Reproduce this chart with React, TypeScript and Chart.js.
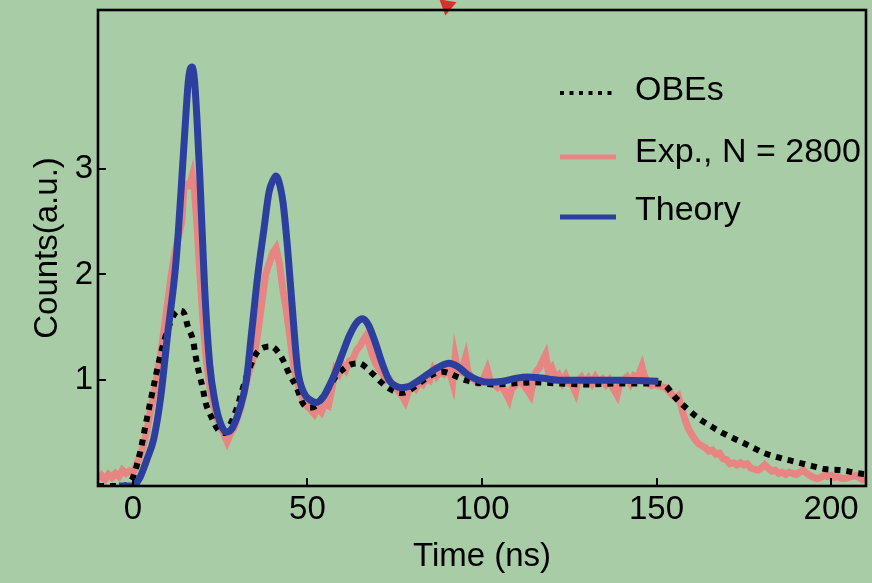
import React, { useEffect, useRef } from "react";
import { Chart, registerables } from "chart.js";

Chart.register(...registerables);

// ---------- data ----------
const xTickValues = [0, 50, 100, 150, 200];
const yTickValues = [1, 2, 3];

const seriesLabels = ["OBEs", "Exp., N = 2800", "Theory"];

const theoryT = [-4, 0, 2, 4, 6, 8, 10, 12, 13, 14, 15, 15.8, 16.4, 17, 17.6, 18.3, 19.2, 20.5, 22, 23.5, 25, 26.8, 28.5, 30.5, 32.5, 34, 35.8, 37.5, 39, 40.3, 41, 41.8, 43, 44.3, 45.5, 47.2, 49, 50.5, 52.5, 54.5, 56, 57.7, 60, 62, 64, 65.8, 67.5, 69.5, 71.5, 73.4, 75, 77, 79, 82, 85, 88, 90.5, 93, 96, 99, 102, 106, 110, 113, 117, 122, 130, 140, 150.5];
const theoryV = [0, 0.0, 0.08, 0.25, 0.45, 0.85, 1.45, 2.0, 2.4, 2.9, 3.42, 3.8, 3.94, 3.96, 3.85, 3.5, 2.9, 1.9, 1.15, 0.8, 0.6, 0.51, 0.55, 0.72, 1.0, 1.45, 2.0, 2.42, 2.78, 2.9, 2.93, 2.88, 2.68, 2.25, 1.75, 1.1, 0.88, 0.82, 0.79, 0.84, 0.93, 1.05, 1.25, 1.42, 1.54, 1.58, 1.52, 1.35, 1.15, 1.0, 0.95, 0.93, 0.94, 1.0, 1.07, 1.13, 1.16, 1.13, 1.05, 1.0, 0.98, 0.99, 1.02, 1.03, 1.02, 1.0, 1.0, 1.0, 0.99];

const obeT = [-10, -3, -1, 0, 2, 3.9, 6.3, 8.2, 10, 11.8, 13.4, 14.7, 15.8, 17.2, 18, 19, 19.9, 20.9, 22.5, 24.4, 26, 27.5, 29.6, 32.5, 35.3, 37.5, 39.6, 41.5, 43, 44.9, 46.8, 48.7, 50.5, 52.5, 54.5, 56.3, 58, 60.1, 62.5, 64.9, 66.8, 68.7, 71.5, 73.5, 75.3, 77, 79, 82, 85, 88.6, 91, 93, 95.3, 100, 104, 108.6, 115, 122, 130.6, 140, 148, 150.5, 152.5, 155.3, 159.1, 162, 165.8, 169.6, 173.4, 177.2, 181, 184.9, 189.6, 194.4, 198.2, 203, 207.7, 210];
const obeV = [0, 0, 0.03, 0.08, 0.31, 0.62, 1.0, 1.28, 1.48, 1.62, 1.66, 1.63, 1.5, 1.38, 1.22, 1.06, 0.94, 0.78, 0.65, 0.53, 0.5, 0.56, 0.72, 1.03, 1.25, 1.31, 1.32, 1.27, 1.19, 1.05, 0.94, 0.78, 0.74, 0.76, 0.85, 0.94, 1.03, 1.1, 1.15, 1.16, 1.12, 1.06, 0.97, 0.92, 0.89, 0.88, 0.9, 0.97, 1.04, 1.08, 1.06, 1.03, 1.0, 0.97, 0.96, 0.97, 0.98, 0.97, 0.96, 0.97, 0.97, 0.97, 0.95, 0.84, 0.72, 0.64, 0.56, 0.49, 0.43, 0.37, 0.31, 0.27, 0.23, 0.19, 0.16, 0.15, 0.12, 0.11];

const expT = [-10, -9, -8, -7, -6, -5, -4, -3, -2, -1, 0, 1, 2, 3, 4, 5, 6, 7, 8, 9, 10, 11, 12, 13, 14, 14.6, 15.5, 16.3, 17, 17.6, 18.3, 19, 20, 21, 22, 23, 24, 25, 26, 27, 28, 29, 30, 31, 32, 33, 34, 35, 36, 37, 38, 39, 40, 41, 42, 43, 44, 45, 46, 47, 48, 49, 50, 51, 52, 53, 54, 55, 56, 57, 58, 59, 60, 61, 62, 63, 64, 65, 66, 66.8, 67.5, 68.5, 69.5, 70.5, 71.5, 72.5, 73.5, 74.5, 75, 76, 77, 78, 79, 80, 81, 82, 83, 84, 85, 86, 87, 88, 89, 90, 91, 91.6, 92.3, 93, 94, 95.3, 96, 97, 98, 99, 100, 101.5, 102.5, 103.5, 104.5, 105.5, 106.5, 107.7, 108.5, 109.5, 110.5, 111.5, 112.5, 113.9, 114.8, 115.5, 116.5, 117.3, 118.2, 119, 120, 121, 122, 123, 124, 125, 126, 126.8, 127.5, 128.5, 129.5, 130.5, 131.5, 132.5, 133.5, 134.5, 135.5, 136.5, 137.5, 138.7, 139.5, 140.5, 141.5, 142.5, 143.5, 144.5, 145.8, 146.5, 147.5, 148.5, 149.5, 150.5, 151.5, 152.5, 153.5, 154.5, 155.5, 156.2, 157, 158, 159, 160, 161, 162, 163, 164, 165, 166, 167, 168, 169, 170, 171, 172, 173, 174, 175, 176, 177, 178, 179, 180, 181, 182, 183, 184, 185, 186, 187, 188, 189, 190, 191, 192, 193, 194, 195, 196, 197, 198, 199, 200, 201, 202, 203, 204, 205, 206, 207, 208, 209, 210];
const expV = [0.07, 0.1, 0.06, 0.11, 0.08, 0.12, 0.09, 0.15, 0.12, 0.14, 0.12, 0.2, 0.28, 0.38, 0.52, 0.7, 0.86, 1.05, 1.25, 1.5, 1.75, 2.0, 2.2, 2.35, 2.5, 2.8, 2.85, 2.84, 2.93, 2.8, 2.5, 2.1, 1.6, 1.2, 0.95, 0.78, 0.65, 0.55, 0.5, 0.42, 0.5, 0.55, 0.65, 0.75, 0.9, 1.05, 1.15, 1.28, 1.5, 1.75, 2.0, 2.1, 2.2, 2.25, 2.1, 1.85, 1.65, 1.4, 1.15, 1.0, 0.88, 0.8, 0.75, 0.72, 0.68, 0.74, 0.7, 0.78, 0.76, 0.92, 1.1, 1.06, 1.15, 1.1, 1.18, 1.2, 1.28, 1.32, 1.38, 1.42, 1.36, 1.25, 1.16, 1.1, 1.06, 1.0, 1.01, 0.95, 0.94, 0.9, 0.86, 0.8, 0.9, 0.95, 0.92, 0.98, 0.96, 1.02, 1.0, 1.1, 1.04, 1.08, 1.06, 1.12, 1.05, 0.98, 1.22, 1.1, 1.08, 1.22, 1.08, 1.02, 1.0, 0.97, 0.98, 1.1, 0.98, 0.96, 0.93, 0.95, 0.9, 0.82, 0.92, 0.95, 1.0, 0.97, 0.93, 0.86, 1.0, 1.08, 1.12, 1.18, 1.24, 1.08, 1.12, 1.02, 1.05, 0.98, 1.04, 0.97, 0.95, 0.89, 1.0, 1.03, 0.98, 1.02, 0.97, 1.03, 0.98, 1.01, 0.96, 1.0, 0.93, 0.86, 0.97, 1.0, 1.03, 0.97, 1.04, 1.02, 1.13, 1.04, 0.98, 0.95, 0.96, 0.95, 0.94, 0.93, 0.9, 0.86, 0.83, 0.85, 0.76, 0.64, 0.55, 0.49, 0.44, 0.4, 0.38, 0.36, 0.33, 0.34, 0.3, 0.31, 0.26, 0.25, 0.21, 0.22, 0.2, 0.22, 0.2, 0.21, 0.17, 0.16, 0.15, 0.17, 0.2, 0.17, 0.14, 0.15, 0.12, 0.13, 0.11, 0.13, 0.12, 0.11, 0.13, 0.15, 0.12, 0.1, 0.08, 0.07, 0.08, 0.1, 0.09, 0.1, 0.08, 0.09, 0.07, 0.07, 0.08, 0.09, 0.1, 0.08, 0.06, 0.06];

const markerT = [90];
const markerV = [4.54];

// ---------- styles ----------
const BG = "#a7cca6";
const BLUE = "#2c3f9f";
const PINK = "#e78582";
const RED = "#d8302b";
const FONT = '"Liberation Sans", Arial, Helvetica, sans-serif';

const zip = (t: number[], v: number[]) => t.map((x, i) => ({ x, y: v[i] }));

const framePlugin = {
  id: "frame",
  afterDraw(chart: any) {
    const { ctx, chartArea, scales } = chart;
    const { left, right, top, bottom } = chartArea;
    const x = scales.x;
    const y = scales.y;
    ctx.save();
    ctx.strokeStyle = "#000";
    ctx.lineWidth = 2.6;
    ctx.strokeRect(left, top, right - left, bottom - top);
    ctx.lineWidth = 2;
    ctx.beginPath();
    for (const t of xTickValues) {
      const px = Math.round(x.getPixelForValue(t));
      ctx.moveTo(px, bottom);
      ctx.lineTo(px, bottom - 8);
    }
    for (const t of yTickValues) {
      const py = Math.round(y.getPixelForValue(t));
      ctx.moveTo(left, py);
      ctx.lineTo(left + 8, py);
    }
    ctx.stroke();

    // legend
    const sx0 = left + 462;
    const sx1 = left + 518;
    const tx = left + 537;
    const rows = [
      { base: top + 90, line: top + 83, color: "#000", width: 4, dash: [4, 5.5] },
      { base: top + 151.7, line: top + 147, color: PINK, width: 5, dash: [] },
      { base: top + 210, line: top + 207, color: BLUE, width: 5, dash: [] },
    ];
    rows.forEach((r, i) => {
      ctx.beginPath();
      ctx.setLineDash(r.dash);
      ctx.lineCap = "butt";
      ctx.strokeStyle = r.color;
      ctx.lineWidth = r.width;
      ctx.moveTo(sx0, r.line);
      ctx.lineTo(sx1, r.line);
      ctx.stroke();
      ctx.setLineDash([]);
      ctx.fillStyle = "#000";
      ctx.font = `34px ${FONT}`;
      ctx.textAlign = "left";
      ctx.textBaseline = "alphabetic";
      ctx.fillText(seriesLabels[i], tx, r.base);
    });
    ctx.restore();
  },
};

export default function App() {
  const ref = useRef<HTMLCanvasElement | null>(null);
  useEffect(() => {
    if (!ref.current) return;
    const tickFont = { family: FONT, size: 33, lineHeight: 1.2 };
    const chart = new Chart(ref.current, {
      type: "line",
      data: {
        datasets: [
          {
            label: seriesLabels[2],
            data: zip(theoryT, theoryV),
            borderColor: BLUE,
            borderWidth: 7,
            pointRadius: 0,
            cubicInterpolationMode: "monotone",
            borderCapStyle: "butt",
            borderJoinStyle: "round",
            order: 0,
          },
          {
            label: seriesLabels[0],
            data: zip(obeT, obeV),
            borderColor: "#000",
            borderWidth: 6,
            borderDash: [6, 6],
            pointRadius: 0,
            cubicInterpolationMode: "monotone",
            borderCapStyle: "butt",
            order: 1,
          },
          {
            label: seriesLabels[1],
            data: zip(expT, expV),
            borderColor: PINK,
            borderWidth: 7,
            pointRadius: 0,
            tension: 0,
            borderJoinStyle: "miter",
            order: 2,
          },
          {
            label: "marker",
            data: zip(markerT, markerV),
            showLine: false,
            pointStyle: "triangle",
            pointRadius: 10,
            pointRotation: 190,
            pointBackgroundColor: RED,
            pointBorderColor: RED,
            pointBorderWidth: 0,
            clip: false,
            order: -1,
          } as any,
        ],
      },
      options: {
        animation: false,
        responsive: false,
        maintainAspectRatio: false,
        devicePixelRatio: 1,
        layout: { autoPadding: false, padding: { top: 10, right: 6, left: 0, bottom: 0 } },
        plugins: { legend: { display: false }, tooltip: { enabled: false } },
        events: [],
        scales: {
          x: {
            type: "linear",
            min: -10,
            max: 210,
            afterBuildTicks: (s: any) => {
              s.ticks = xTickValues.map((value) => ({ value }));
            },
            afterFit: (s: any) => {
              s.height = 97;
              s.paddingLeft = 0;
              s.paddingRight = 0;
            },
            grid: { display: false, drawTicks: false },
            border: { display: false },
            ticks: { font: tickFont, color: "#000", padding: 4, maxRotation: 0, autoSkip: false },
            title: {
              display: true,
              text: "Time (ns)",
              font: tickFont,
              color: "#000",
              padding: 6,
            },
          },
          y: {
            type: "linear",
            min: 0,
            max: 4.5,
            afterBuildTicks: (s: any) => {
              s.ticks = yTickValues.map((value) => ({ value }));
            },
            afterFit: (s: any) => {
              s.width = 98;
              s.paddingTop = 0;
              s.paddingBottom = 0;
            },
            grid: { display: false, drawTicks: false },
            border: { display: false },
            ticks: { font: tickFont, color: "#000", padding: 5 },
            title: {
              display: true,
              text: "Counts(a.u.)",
              font: tickFont,
              color: "#000",
              padding: 28,
            },
          },
        },
      } as any,
      plugins: [framePlugin],
    });
    return () => chart.destroy();
  }, []);
  return (
    <div style={{ position: "absolute", left: 0, top: 0, width: 872, height: 583, background: BG }}>
      <canvas ref={ref} width={872} height={583} style={{ display: "block", width: 872, height: 583 }} />
    </div>
  );
}
